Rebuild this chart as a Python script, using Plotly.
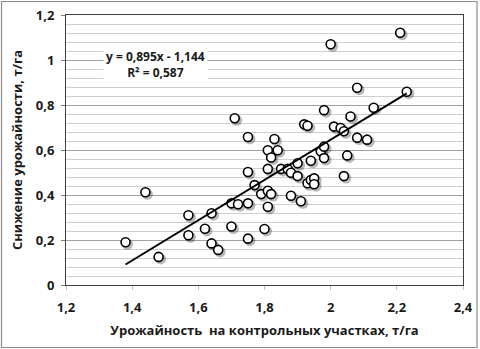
import plotly.graph_objects as go

# Data
x_control = [1.38, 1.44, 1.48, 1.57, 1.57, 1.62, 1.64, 1.64, 1.66, 1.70,
             1.70, 1.72, 1.71, 1.75, 1.75, 1.75, 1.75, 1.77, 1.79, 1.80,
             1.81, 1.81, 1.81, 1.81, 1.82, 1.82, 1.83, 1.84, 1.85, 1.87,
             1.88, 1.88, 1.90, 1.90, 1.91, 1.92, 1.93, 1.93, 1.94, 1.94,
             1.95, 1.95, 1.97, 1.98, 1.98, 1.98, 2.00, 2.01, 2.03, 2.04,
             2.04, 2.05, 2.06, 2.08, 2.08, 2.11, 2.13, 2.21, 2.23]
y_loss = [0.190, 0.412, 0.125, 0.310, 0.221, 0.250, 0.319, 0.185, 0.156, 0.260,
          0.363, 0.359, 0.741, 0.206, 0.363, 0.502, 0.658, 0.444, 0.404, 0.249,
          0.419, 0.348, 0.516, 0.599, 0.567, 0.404, 0.649, 0.599, 0.516, 0.516,
          0.499, 0.397, 0.541, 0.484, 0.372, 0.714, 0.708, 0.452, 0.467, 0.552,
          0.474, 0.448, 0.594, 0.564, 0.615, 0.777, 1.070, 0.704, 0.698, 0.683,
          0.484, 0.576, 0.749, 0.877, 0.655, 0.646, 0.788, 1.121, 0.859]

slope = 0.895
intercept = -1.144
eq_text = "y = 0,895x - 1,144<br>R² = 0,587"

x_range = [1.2, 2.4]
y_range = [0, 1.2]

W, H = 480, 349
ml, mr, mt, mb = 66, 17, 15, 64
pw, ph = W - ml - mr, H - mt - mb

font_family = "Open Sans, Noto Sans, DejaVu Sans, sans-serif"

# shadow offsets (2 px) in data units
dx = 2 * (x_range[1] - x_range[0]) / pw
dy = 2 * (y_range[1] - y_range[0]) / ph

fig = go.Figure()

fig.add_trace(go.Scatter(
    x=[v + dx for v in x_control], y=[v - dy for v in y_loss],
    mode="markers",
    marker=dict(size=11, color="rgba(0,0,0,0.28)", line=dict(width=0)),
    hoverinfo="skip", showlegend=False))

fig.add_trace(go.Scatter(
    x=x_control, y=y_loss, mode="markers",
    marker=dict(size=9, color="white", line=dict(color="black", width=1.6)),
    showlegend=False))

xmin, xmax = min(x_control), max(x_control)
fig.add_trace(go.Scatter(
    x=[xmin, xmax], y=[slope * xmin + intercept, slope * xmax + intercept],
    mode="lines", line=dict(color="black", width=2), showlegend=False))

fig.add_annotation(
    x=1.47, y=0.982, xref="x", yref="y", text=eq_text, showarrow=False,
    font=dict(family=font_family, size=12, color="#1a1a1a", weight="bold"),
    bgcolor="white", borderpad=2, align="center")

# outer chart border
fig.add_shape(type="rect", xref="paper", yref="paper",
              x0=(1.5 - ml) / pw, x1=(477 - ml) / pw,
              y0=(H - 347.5 - mb) / ph, y1=(H - 1.5 - mb) / ph,
              line=dict(color="#8c8c8c", width=1.2), layer="below")

fig.update_layout(
    width=W, height=H,
    margin=dict(l=ml, r=mr, t=mt, b=mb, autoexpand=False),
    paper_bgcolor="white", plot_bgcolor="white",
    separators=", ",
    font=dict(family=font_family, color="#1a1a1a"),
    xaxis=dict(
        range=x_range, dtick=0.2, tick0=1.2, showgrid=False, zeroline=False,
        automargin=False,
        showline=True, linecolor="#404040", linewidth=1, mirror=True,
        ticks="outside", ticklen=4, tickcolor="#bfbfbf",
        ticklabelstandoff=6,
        tickfont=dict(family=font_family, size=13, color="#1a1a1a", weight="bold"),
        title=dict(text="Урожайность  на контрольных участках, т/га", standoff=11,
                   font=dict(family=font_family, size=13, color="#1a1a1a", weight="bold"))),
    yaxis=dict(
        range=y_range, dtick=0.2, showgrid=True, gridcolor="#a0a0a0", gridwidth=1,
        automargin=False,
        zeroline=False, showline=True, linecolor="#404040", linewidth=1, mirror=True,
        ticks="outside", ticklen=4, tickcolor="#808080",
        ticklabelstandoff=4,
        minor=dict(dtick=0.04, showgrid=True, gridcolor="#cfcfcf", gridwidth=1),
        tickfont=dict(family=font_family, size=13, color="#1a1a1a", weight="bold"),
        title=dict(text="Снижение урожайности, т/га", standoff=10,
                   font=dict(family=font_family, size=13, color="#1a1a1a", weight="bold"))),
)

fig.write_html("out.html",
               config={"displayModeBar": False},
               post_script="document.body.style.margin='0';document.body.style.overflow='hidden';")
